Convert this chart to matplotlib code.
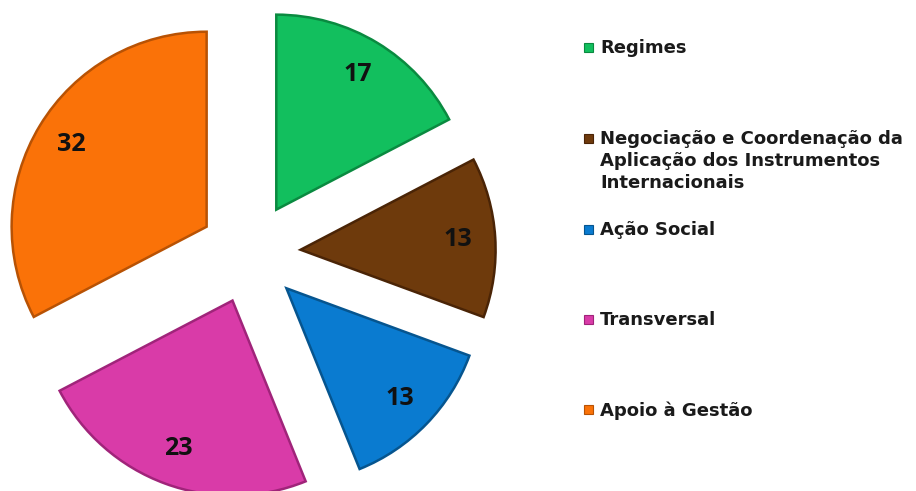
import numpy as np
import matplotlib.pyplot as plt
from matplotlib.patches import Rectangle

categories = ['Regimes',
              'Negociação e Coordenação da\nAplicação dos Instrumentos\nInternacionais',
              'Ação Social',
              'Transversal',
              'Apoio à Gestão']
values = [17, 13, 13, 23, 32]
colors = ['#12BF5E', '#6E3A0C', '#0A7BD0', '#D93BA8', '#FA7208']
edges = ['#0A8A40', '#4A2406', '#06558F', '#A0247A', '#B85204']

# legend rows (pixel y of first text line centre, from top)
legend_y = [47, 138, 229, 319, 409]

W, H = 916, 491
fig = plt.figure(figsize=(W / 100, H / 100), dpi=100)
ax = fig.add_axes([0, 0, 1, 1])

total = sum(values)
wedges, texts, autotexts = ax.pie(
    values, colors=colors, startangle=90, counterclock=False,
    explode=[0.26] * len(values),
    autopct=lambda p: '%d' % round(p * total / 100.0),
    pctdistance=0.81,
    wedgeprops=dict(linewidth=1.8),
    textprops=dict(fontsize=18, fontweight='bold', color='#111111',
                   family='Open Sans'))
for w, ec in zip(wedges, edges):
    w.set_edgecolor(ec)

# pie centre at pixel (250, 253), radius 195 px
r = 195.0
cx, cy = 250.0, H - 253.0
ax.set_xlim(-cx / r, (W - cx) / r)
ax.set_ylim(-cy / r, (H - cy) / r)
ax.set_aspect('auto')
ax.axis('off')

for lab, col, ec, yy in zip(categories, colors, edges, legend_y):
    yf = 1 - yy / H
    fig.text(600 / W, 1 - (yy - 8) / H, lab, fontsize=13, fontweight='bold',
             family='DejaVu Sans', color='#1a1a1a', va='top', ha='left',
             linespacing=1.3)
    fig.patches.append(Rectangle((584 / W, yf - 4.5 / H), 9 / W, 9 / H,
                                 transform=fig.transFigure, facecolor=col,
                                 edgecolor=ec, linewidth=0.8))

fig.savefig('out.png', dpi=100)
